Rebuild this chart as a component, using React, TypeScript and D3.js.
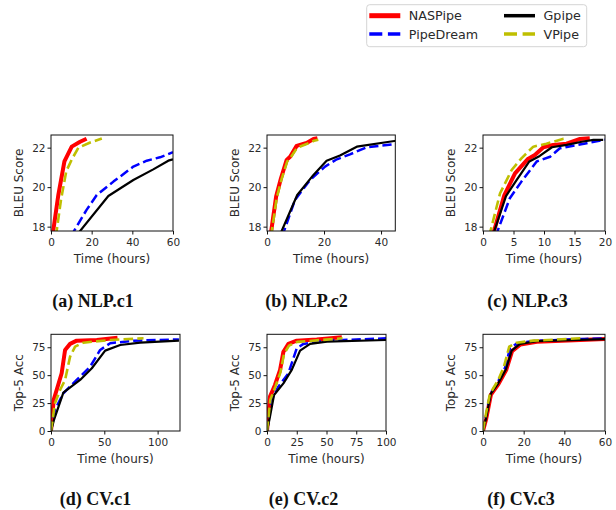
import { useEffect, useRef } from "react";
import * as d3 from "d3";

type Pt = [number, number];

const seriesNames = ["NASPipe", "PipeDream", "Gpipe", "VPipe"];
const seriesColors = ["#ff0000", "#0000ff", "#000000", "#bfbf00"];

// (a) NLP.c1  [hours, BLEU]
const nlpC1NASPipe: Pt[] = [[0.7, 17.5], [3.6, 19.6], [6.6, 21.3], [10.2, 22.05], [14.3, 22.3], [17.5, 22.45]];
const nlpC1PipeDream: Pt[] = [[9.7, 17.5], [17.5, 18.85], [22.5, 19.6], [30.7, 20.28], [40.5, 21.04], [47.1, 21.34], [53.6, 21.51], [60, 21.77]];
const nlpC1Gpipe: Pt[] = [[12.1, 17.5], [28.2, 19.55], [40.5, 20.36], [50.3, 20.9], [57.7, 21.34], [60, 21.41]];
const nlpC1VPipe: Pt[] = [[2.4, 17.5], [4.9, 19.35], [7.5, 20.8], [10.2, 21.4], [13.5, 22.0], [19, 22.25], [25, 22.46]];

// (b) NLP.c2
const nlpC2NASPipe: Pt[] = [[1.2, 17.5], [3.2, 19.52], [4.9, 20.45], [6.9, 21.38], [8.1, 21.54], [10.4, 22.09], [13.9, 22.24], [16.3, 22.44], [17.7, 22.48]];
const nlpC2PipeDream: Pt[] = [[5.3, 17.5], [9.8, 19.35], [15.1, 20.36], [20.35, 21.04], [24.5, 21.41], [29.1, 21.66], [35, 22.02], [45.3, 22.19]];
const nlpC2Gpipe: Pt[] = [[4.3, 17.5], [10.6, 19.6], [16.3, 20.62], [20.9, 21.34], [25.6, 21.6], [31.5, 22.05], [45.3, 22.35]];
const nlpC2VPipe: Pt[] = [[1.4, 17.5], [3.4, 19.45], [5.1, 20.4], [7.1, 21.3], [8.3, 21.5], [10.6, 22.0], [14.1, 22.2], [16.5, 22.35], [18, 22.4]];

// (c) NLP.c3
const nlpC3NASPipe: Pt[] = [[1.55, 17.5], [3.5, 19.6], [5.25, 20.7], [7.3, 21.41], [8.5, 21.63], [9.9, 22.02], [11.5, 22.14], [13.7, 22.2], [15.9, 22.44], [17.5, 22.48]];
const nlpC3PipeDream: Pt[] = [[2.05, 17.5], [4.4, 19.44], [6.3, 20.28], [8.8, 21.3], [11.0, 21.54], [12.6, 21.97], [14.8, 22.1], [17, 22.22], [20, 22.4]];
const nlpC3Gpipe: Pt[] = [[1.55, 17.5], [3.77, 19.55], [5.5, 20.36], [7.6, 21.3], [9.3, 21.58], [11.3, 22.02], [13.7, 22.14], [16.2, 22.3], [18.1, 22.39], [19.7, 22.39]];
const nlpC3VPipe: Pt[] = [[1.0, 17.5], [2.8, 19.69], [4.7, 20.87], [6.3, 21.46], [8.25, 22.05], [10.4, 22.2], [13.2, 22.45], [13.8, 22.46]];

// (d) CV.c1  [hours, top-5 acc]
const cvC1NASPipe: Pt[] = [[0, 0], [2.5, 28], [5.3, 36.7], [10, 51.7], [13.2, 72.6], [17.9, 78], [24.1, 80.9], [43, 81.5], [62.4, 83.6]];
const cvC1PipeDream: Pt[] = [[0, 0], [3.7, 18.8], [11.6, 33.8], [24.1, 45.7], [36.7, 57.6], [46.1, 72.6], [55.5, 78.6], [77.4, 80.9], [120, 82]];
const cvC1Gpipe: Pt[] = [[0, 0], [2.8, 9.9], [11.6, 34.3], [27.3, 45.7], [38.3, 56.2], [50.8, 72], [64.9, 77], [83.7, 79.1], [120, 80.9]];
const cvC1VPipe: Pt[] = [[0, 0], [3.7, 24.8], [8.5, 36.7], [13.2, 45.7], [17.9, 66.6], [22.6, 75.6], [30.4, 79.1], [55.5, 81.5], [86.8, 83]];

// (e) CV.c2
const cvC2NASPipe: Pt[] = [[0, 0], [2.5, 30.8], [6.7, 41.2], [11, 54.7], [13.8, 71], [18, 78], [25, 80.9], [41.8, 82], [62.9, 84]];
const cvC2PipeDream: Pt[] = [[0, 0], [3.9, 27.8], [9.5, 39.7], [18, 51.7], [25, 74.1], [30.6, 78], [50.3, 80.9], [100, 83]];
const cvC2Gpipe: Pt[] = [[0, 0], [2, 10], [5.9, 32.3], [13.8, 42.7], [20.8, 54.7], [27.8, 72], [36.2, 78], [50.3, 80.1], [100, 81.5]];
const cvC2VPipe: Pt[] = [[0, 0], [2.8, 28], [7, 39.5], [11.3, 52.5], [14.3, 69], [18.5, 76.5], [25.5, 79.8], [42, 81.2], [63.5, 83]];

// (f) CV.c3
const cvC3NASPipe: Pt[] = [[0, 0], [1.6, 11], [3.9, 32.5], [7.6, 42], [11.4, 54.5], [14.3, 71.5], [18.4, 77.5], [26.5, 80], [62, 82.5]];
const cvC3PipeDream: Pt[] = [[0, 0], [1.5, 14], [3.5, 33], [7.5, 44.5], [10.8, 56.5], [13.3, 74.1], [16.8, 78.6], [25, 80.7], [50, 82.5], [62, 83]];
const cvC3Gpipe: Pt[] = [[0, 0], [1.5, 11.3], [3.8, 33.2], [7.5, 42.7], [11.3, 55.3], [14.1, 72], [18.2, 78], [26.4, 80.4], [62, 82.4]];
const cvC3VPipe: Pt[] = [[0, 0], [1.5, 15.8], [3.4, 33.2], [7.5, 45.7], [10.3, 57.6], [12.9, 75.5], [16.6, 79.1], [24.8, 80.9], [47.7, 83], [49, 83]];

const nlpYTicks = [18, 20, 22];
const cvYTicks = [0, 25, 50, 75];
const nlpYDomain: [number, number] = [17.78, 22.64];
const cvYDomain: [number, number] = [0, 86.6];

const captions = ["(a) NLP.c1", "(b) NLP.c2", "(c) NLP.c3", "(d) CV.c1", "(e) CV.c2", "(f) CV.c3"];

const panels = [
  { left: 51, right: 173, top: 135, bottom: 231, xMax: 60, xTicks: [0, 20, 40, 60], yDomain: nlpYDomain, yTicks: nlpYTicks, ylabel: "BLEU Score", capX: 93, capY: 306.5, series: [nlpC1NASPipe, nlpC1PipeDream, nlpC1Gpipe, nlpC1VPipe] },
  { left: 267, right: 395.3, top: 135, bottom: 231, xMax: 45, xTicks: [0, 20, 40], yDomain: nlpYDomain, yTicks: nlpYTicks, ylabel: "BLEU Score", capX: 306.5, capY: 306.5, series: [nlpC2NASPipe, nlpC2PipeDream, nlpC2Gpipe, nlpC2VPipe] },
  { left: 483, right: 605, top: 135, bottom: 231, xMax: 20, xTicks: [0, 5, 10, 15, 20], yDomain: nlpYDomain, yTicks: nlpYTicks, ylabel: "BLEU Score", capX: 527.5, capY: 306.5, series: [nlpC3NASPipe, nlpC3PipeDream, nlpC3Gpipe, nlpC3VPipe] },
  { left: 51, right: 180, top: 334.3, bottom: 431, xMax: 121, xTicks: [0, 50, 100], yDomain: cvYDomain, yTicks: cvYTicks, ylabel: "Top-5 Acc", capX: 95.5, capY: 505.3, series: [cvC1NASPipe, cvC1PipeDream, cvC1Gpipe, cvC1VPipe] },
  { left: 267, right: 386, top: 334.3, bottom: 431, xMax: 100, xTicks: [0, 25, 50, 75, 100], yDomain: cvYDomain, yTicks: cvYTicks, ylabel: "Top-5 Acc", capX: 303.5, capY: 505.3, series: [cvC2NASPipe, cvC2PipeDream, cvC2Gpipe, cvC2VPipe] },
  { left: 483, right: 605, top: 334.3, bottom: 431, xMax: 60, xTicks: [0, 20, 40, 60], yDomain: cvYDomain, yTicks: cvYTicks, ylabel: "Top-5 Acc", capX: 521, capY: 505.3, series: [cvC3NASPipe, cvC3PipeDream, cvC3Gpipe, cvC3VPipe] },
];

// line styles: width, dash  (plot and legend handle)
const lineWidth = [4, 2.5, 2.2, 2.6];
const lineDash = [null, "9.25,4", null, "9.6,4.2"];
const legendWidth = [5, 3.5, 3.5, 3.5];
const legendDash = [null, "13,5.6", null, "13,5.6"];

const SANS = "DejaVu Sans, sans-serif";
const TEXT = "#2a2a2a";

const App = () => {
  const svgRef = useRef<SVGSVGElement>(null);

  useEffect(() => {
    document.body.style.margin = "0";
    if (!svgRef.current) return;
    const svg = d3.select(svgRef.current);
    svg.selectAll("*").remove();

    panels.forEach((p, i) => {
      const x = d3.scaleLinear().domain([0, p.xMax]).range([p.left, p.right]);
      const y = d3.scaleLinear().domain(p.yDomain).range([p.bottom, p.top]);
      const g = svg.append("g");

      const clipId = `clip-${i}`;
      g.append("clipPath")
        .attr("id", clipId)
        .append("rect")
        .attr("x", p.left)
        .attr("y", p.top)
        .attr("width", p.right - p.left)
        .attr("height", p.bottom - p.top);

      const line = d3
        .line<Pt>()
        .x((d) => x(d[0]))
        .y((d) => y(d[1]));

      const lines = g.append("g").attr("clip-path", `url(#${clipId})`);
      p.series.forEach((s, k) => {
        lines
          .append("path")
          .datum(s)
          .attr("d", line)
          .attr("fill", "none")
          .attr("stroke", seriesColors[k])
          .attr("stroke-width", lineWidth[k])
          .attr("stroke-linejoin", "round")
          .attr("stroke-dasharray", lineDash[k]);
      });

      // spines
      g.append("rect")
        .attr("x", p.left)
        .attr("y", p.top)
        .attr("width", p.right - p.left)
        .attr("height", p.bottom - p.top)
        .attr("fill", "none")
        .attr("stroke", "#111")
        .attr("stroke-width", 1);

      const fmt = d3.format("d");
      const xAxis = d3.axisBottom(x).tickValues(p.xTicks).tickFormat(fmt).tickSize(3.5).tickPadding(4.5).tickSizeOuter(0);
      const xg = g.append("g").attr("transform", `translate(0,${p.bottom})`).call(xAxis);
      const yAxis = d3.axisLeft(y).tickValues(p.yTicks).tickFormat(fmt).tickSize(3.5).tickPadding(2).tickSizeOuter(0);
      const yg = g.append("g").attr("transform", `translate(${p.left},0)`).call(yAxis);
      [xg, yg].forEach((ag) => {
        ag.select(".domain").remove();
        ag.attr("font-family", SANS).attr("font-size", 10.5).attr("color", "#111");
        ag.selectAll("text").attr("fill", TEXT);
      });

      g.append("text")
        .attr("x", (p.left + p.right) / 2)
        .attr("y", p.bottom + 28)
        .attr("text-anchor", "middle")
        .attr("dominant-baseline", "central")
        .attr("font-family", SANS)
        .attr("font-size", 12)
        .attr("fill", TEXT)
        .text("Time (hours)");

      g.append("text")
        .attr("transform", `translate(${p.left - 32.5},${(p.top + p.bottom) / 2}) rotate(-90)`)
        .attr("text-anchor", "middle")
        .attr("dominant-baseline", "central")
        .attr("font-family", SANS)
        .attr("font-size", 12)
        .attr("fill", TEXT)
        .text(p.ylabel);

      g.append("text")
        .attr("x", p.capX)
        .attr("y", p.capY)
        .attr("text-anchor", "middle")
        .attr("font-family", "Liberation Serif, serif")
        .attr("font-weight", "bold")
        .attr("font-size", 18)
        .attr("fill", "#111")
        .text(captions[i]);
    });

    // legend (2 columns: NASPipe, PipeDream | Gpipe, VPipe)
    const lg = svg.append("g");
    lg.append("rect")
      .attr("x", 366.7)
      .attr("y", 4.7)
      .attr("width", 220)
      .attr("height", 42)
      .attr("rx", 3)
      .attr("fill", "white")
      .attr("stroke", "#d4d4d4")
      .attr("stroke-width", 1);
    const colX = [369.3, 504];
    const rowY = [15.7, 34];
    seriesNames.forEach((name, k) => {
      const col = Math.floor(k / 2);
      const row = k % 2;
      lg.append("line")
        .attr("x1", colX[col])
        .attr("x2", colX[col] + 31)
        .attr("y1", rowY[row])
        .attr("y2", rowY[row])
        .attr("stroke", seriesColors[k])
        .attr("stroke-width", legendWidth[k])
        .attr("stroke-dasharray", legendDash[k]);
      lg.append("text")
        .attr("x", colX[col] + 39.5)
        .attr("y", rowY[row])
        .attr("dominant-baseline", "central")
        .attr("font-family", SANS)
        .attr("font-size", 12.7)
        .attr("fill", TEXT)
        .text(name);
    });
  }, []);

  return <svg ref={svgRef} width={616} height={510} style={{ display: "block" }} />;
};

export default App;
